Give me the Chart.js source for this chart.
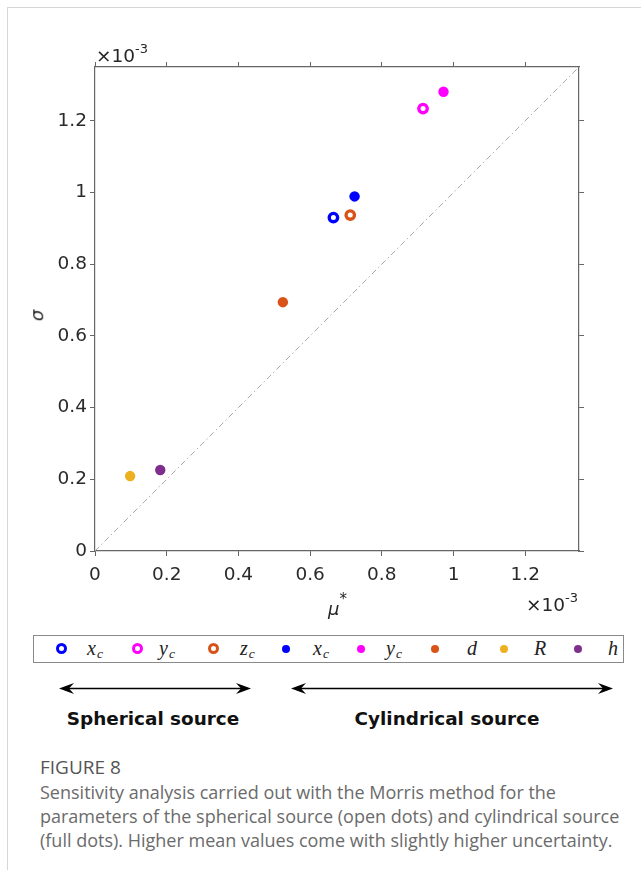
<!DOCTYPE html>
<html>
<head>
<meta charset="utf-8">
<script src="https://cdn.jsdelivr.net/npm/chart.js@4.4.0/dist/chart.umd.min.js"></script>
<style>
  html, body { margin: 0; padding: 0; background: #fff; }
  body { width: 641px; height: 870px; position: relative; overflow: hidden; font-family: "DejaVu Sans", sans-serif; }
  #frame { position: absolute; left: 7px; top: 7px; right: -2px; bottom: -2px; border-left: 1px solid #d6d6d6; border-top: 1px solid #d6d6d6; }
  #c { position: absolute; left: 0; top: 0; }
  .abs { position: absolute; white-space: nowrap; }
  .exp { font-family: "DejaVu Sans", sans-serif; font-size: 18.5px; color: #262626; }
  .exp sup { font-size: 13px; position: relative; top: -2px; }
  .axt { font-family: "DejaVu Sans", sans-serif; font-style: italic; font-size: 18px; color: #262626; }
  #legend { position: absolute; left: 33px; top: 635px; width: 589px; height: 26px; border: 1px solid #8a8a8a; }
  .mk { position: absolute; border-radius: 50%; box-sizing: border-box; }
  .lab { position: absolute; font-family: "Liberation Serif", "DejaVu Serif", serif; font-style: italic; font-size: 20px; color: #222; top: 638px; line-height: 20px; }
  .lab sub { font-size: 13.5px; position: relative; top: 3px; vertical-align: baseline; line-height: 0; margin-left: 1px; }
  .src { position: absolute; font-family: "DejaVu Sans", sans-serif; font-weight: bold; font-size: 18.4px; color: #111; top: 708px; transform: translateX(-50%); white-space: nowrap; }
  #figno { position: absolute; left: 40px; top: 754px; font-family: "Open Sans", "Noto Sans", sans-serif; font-size: 19px; color: #555; }
  #cap { position: absolute; left: 40px; top: 780px; font-family: "Open Sans", "Noto Sans", sans-serif; font-size: 18px; line-height: 24px; color: #6b6b6b; white-space: nowrap; }
</style>
</head>
<body>
<div id="frame"></div>
<canvas id="c" width="641" height="620"></canvas>

<div class="abs exp" style="left:96px; top:43px;">×10<sup>-3</sup></div>
<div class="abs exp" style="left:526px; top:592px;">×10<sup>-3</sup></div>
<div class="abs axt" style="left:328px; top:594px;">μ<sup style="font-style:normal;font-size:15px;position:relative;top:-4px;">*</sup></div>
<div class="abs axt" style="left:31px; top:305px; transform: rotate(-90deg); transform-origin: 50% 50%;">σ</div>

<div id="legend"></div>
<svg class="abs" style="left:0; top:670px;" width="641" height="40">
  <line x1="66" y1="18.5" x2="243" y2="18.5" stroke="#000" stroke-width="1.4"/>
  <path d="M59,18.5 L74,13 L69,18.5 L74,24 Z" fill="#000"/>
  <path d="M251,18.5 L236,13 L241,18.5 L236,24 Z" fill="#000"/>
  <line x1="298" y1="18.5" x2="606" y2="18.5" stroke="#000" stroke-width="1.4"/>
  <path d="M291,18.5 L306,13 L301,18.5 L306,24 Z" fill="#000"/>
  <path d="M613,18.5 L598,13 L603,18.5 L598,24 Z" fill="#000"/>
</svg>
<div class="src" style="left:153px;">Spherical source</div>
<div class="src" style="left:447px;">Cylindrical source</div>

<div id="figno">FIGURE 8</div>
<div id="cap">Sensitivity analysis carried out with the Morris method for the<br>parameters of the spherical source (open dots) and cylindrical source<br>(full dots). Higher mean values come with slightly higher uncertainty.</div>

<script>
// ---- data (values in units of 10^-3) ----
const sphericalNames = ['x', 'y', 'z'];
const sphericalSubs = ['c', 'c', 'c'];
const sphericalMu = [0.665, 0.915, 0.712];
const sphericalSigma = [0.930, 1.234, 0.937];

const cylindricalNames = ['x', 'y', 'd', 'R', 'h'];
const cylindricalSubs = ['c', 'c', '', '', ''];
const cylindricalMu = [0.724, 0.972, 0.524, 0.098, 0.182];
const cylindricalSigma = [0.989, 1.281, 0.694, 0.209, 0.226];

const tickValues = [0, 0.2, 0.4, 0.6, 0.8, 1, 1.2];
const tickLabels = ['0', '0.2', '0.4', '0.6', '0.8', '1', '1.2'];
const axisRange = [0, 1.35];
const diagonal = [0, 1.35];

// ---- styles ----
const sphericalColors = ['#0000ff', '#ff00ff', '#d95319'];
const cylindricalColors = ['#0000ff', '#ff00ff', '#d95319', '#edb120', '#7e2f8e'];

const datasets = [];
sphericalMu.forEach((m, i) => {
  datasets.push({
    label: sphericalNames[i] + sphericalSubs[i],
    data: [{ x: m, y: sphericalSigma[i] }],
    pointStyle: 'circle',
    pointRadius: 4.2,
    pointBorderWidth: 3.4,
    pointBackgroundColor: '#ffffff',
    pointBorderColor: sphericalColors[i],
    order: 1
  });
});
cylindricalMu.forEach((m, i) => {
  datasets.push({
    label: cylindricalNames[i] + cylindricalSubs[i],
    data: [{ x: m, y: cylindricalSigma[i] }],
    pointStyle: 'circle',
    pointRadius: 5.2,
    pointBorderWidth: 0,
    pointBackgroundColor: cylindricalColors[i],
    pointBorderColor: cylindricalColors[i],
    order: 1
  });
});
datasets.push({
  label: 'diag',
  data: diagonal.map(v => ({ x: v, y: v })),
  showLine: true,
  pointRadius: 0,
  borderColor: '#aaaaaa',
  borderWidth: 1,
  borderDash: [6, 3, 1.5, 3],
  order: 10
});

const axisColor = '#666666';
const tickFont = { family: 'DejaVu Sans', size: 18.5 };
const setTicks = s => { s.ticks = tickValues.map(v => ({ value: v })); };
const fmt = (v) => { const i = tickValues.indexOf(v); return i >= 0 ? tickLabels[i] : ''; };

function axis(pos, showLabels, size) {
  const horizontal = (pos === 'top' || pos === 'bottom');
  return {
    type: 'linear',
    position: pos,
    min: axisRange[0],
    max: axisRange[1],
    afterBuildTicks: setTicks,
    afterFit: s => { if (horizontal) s.height = size; else s.width = size; },
    ticks: {
      display: showLabels,
      font: tickFont,
      color: '#2a2a2a',
      padding: horizontal ? 8 : 3,
      callback: fmt,
      maxRotation: 0,
      autoSkip: false
    },
    grid: { drawOnChartArea: false, drawTicks: true, tickLength: 5, color: axisColor, lineWidth: 1 },
    border: { display: true, color: axisColor, width: 1.2 }
  };
}

new Chart(document.getElementById('c'), {
  type: 'scatter',
  data: { datasets },
  options: {
    responsive: false,
    animation: false,
    devicePixelRatio: 1,
    layout: { padding: 0 },
    plugins: { legend: { display: false }, tooltip: { enabled: false } },
    scales: {
      x: axis('bottom', true, 69),
      x2: axis('top', false, 67),
      y: axis('left', true, 95),
      y2: axis('right', false, 62)
    }
  }
});

// ---- HTML legend built from the same arrays ----
const host = document.body;
const legendMarkX = [61, 137, 213, 286, 361, 435, 504, 578];
const legendLabX = [87, 159, 240, 313, 386, 467, 534, 608];
const allNames = sphericalNames.concat(cylindricalNames);
const allSubs = sphericalSubs.concat(cylindricalSubs);
const allColors = sphericalColors.concat(cylindricalColors);
allNames.forEach((n, i) => {
  const open = i < sphericalNames.length;
  const mk = document.createElement('div');
  mk.className = 'mk';
  const d = open ? 11 : 8;
  mk.style.width = d + 'px';
  mk.style.height = d + 'px';
  mk.style.left = (legendMarkX[i] - d / 2) + 'px';
  mk.style.top = (648.5 - d / 2) + 'px';
  if (open) { mk.style.border = '3.5px solid ' + allColors[i]; mk.style.background = '#fff'; }
  else { mk.style.background = allColors[i]; }
  host.appendChild(mk);
  const lab = document.createElement('div');
  lab.className = 'lab';
  lab.style.left = legendLabX[i] + 'px';
  lab.innerHTML = n + (allSubs[i] ? '<sub>' + allSubs[i] + '</sub>' : '');
  host.appendChild(lab);
});
</script>
</body>
</html>
